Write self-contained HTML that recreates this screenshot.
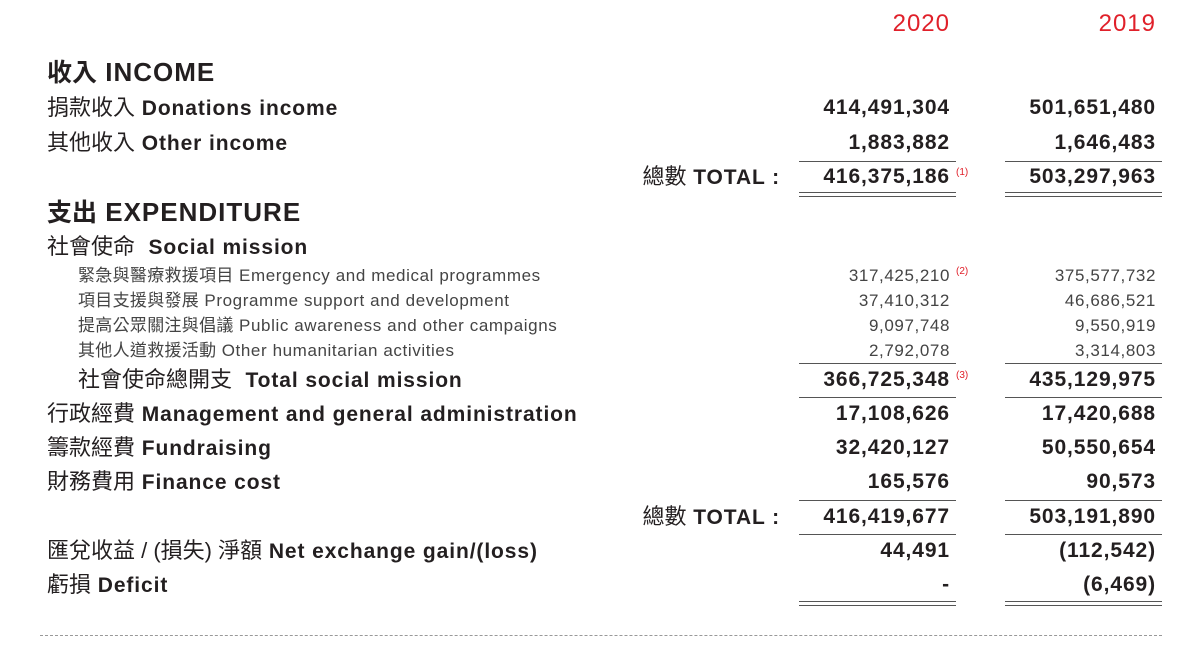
<!DOCTYPE html><html><head><meta charset="utf-8"><style>
body{margin:0;width:1200px;height:651px;background:#fff;position:relative;overflow:hidden;font-family:"Liberation Sans","Noto Sans CJK TC",sans-serif;color:#231f20}
.t{position:absolute;height:30px;line-height:30px;white-space:nowrap}
.b{font-weight:bold;font-size:21px;letter-spacing:0.9px}
.h{font-weight:bold;font-size:26px;letter-spacing:1px}
.s{font-size:17px;color:#444;letter-spacing:0.6px}
.c{font-weight:normal;font-size:22px;letter-spacing:0}
.cs{font-size:17px;letter-spacing:0.3px}
.n1{right:250px;text-align:right}
.n2{right:44px;text-align:right}
.red{color:#e0202a;font-size:24px;letter-spacing:1px}
.fn{position:absolute;font-size:10px;color:#e0202a;left:956px}
.l{position:absolute;height:1px;background:#555;width:157px}
.x1{left:799px}.x2{left:1005px}
</style></head><body>
<div class="t red n1" style="top:9px">2020</div>
<div class="t red n2" style="top:9px">2019</div>

<div class="t h" style="left:47px;top:57px"><span style="font-size:25px;letter-spacing:0">收入</span> INCOME</div>
<div class="t b" style="left:47px;top:93px"><span class="c">捐款收入</span> Donations income</div>
<div class="t b" style="left:47px;top:128px"><span class="c">其他收入</span> Other income</div>
<div class="t b n1" style="top:93px">414,491,304</div>
<div class="t b n2" style="top:93px">501,651,480</div>
<div class="t b n1" style="top:128px">1,883,882</div>
<div class="t b n2" style="top:128px">1,646,483</div>
<div class="l x1" style="top:161px"></div><div class="l x2" style="top:161px"></div>
<div class="t b" style="right:420px;top:162px"><span class="c">總數</span> TOTAL :</div>
<div class="t b n1" style="top:162px">416,375,186</div><div class="fn" style="top:167px">(1)</div>
<div class="t b n2" style="top:162px">503,297,963</div>
<div class="l x1" style="top:192px"></div><div class="l x2" style="top:192px"></div>
<div class="l x1" style="top:196px"></div><div class="l x2" style="top:196px"></div>

<div class="t h" style="left:47px;top:197px"><span style="font-size:25px;letter-spacing:0">支出</span> EXPENDITURE</div>
<div class="t b" style="left:47px;top:232px"><span class="c">社會使命</span>&nbsp; Social mission</div>
<div class="t s" style="left:78px;top:261px"><span class="cs">緊急與醫療救援項目</span> Emergency and medical programmes</div>
<div class="t s" style="left:78px;top:286px"><span class="cs">項目支援與發展</span> Programme support and development</div>
<div class="t s" style="left:78px;top:311px"><span class="cs">提高公眾關注與倡議</span> Public awareness and other campaigns</div>
<div class="t s" style="left:78px;top:336px"><span class="cs">其他人道救援活動</span> Other humanitarian activities</div>
<div class="t s n1" style="top:261px">317,425,210</div><div class="fn" style="top:266px">(2)</div>
<div class="t s n2" style="top:261px">375,577,732</div>
<div class="t s n1" style="top:286px">37,410,312</div><div class="t s n2" style="top:286px">46,686,521</div>
<div class="t s n1" style="top:311px">9,097,748</div><div class="t s n2" style="top:311px">9,550,919</div>
<div class="t s n1" style="top:336px">2,792,078</div><div class="t s n2" style="top:336px">3,314,803</div>
<div class="l x1" style="top:363px"></div><div class="l x2" style="top:363px"></div>
<div class="t b" style="left:78px;top:365px"><span class="c">社會使命總開支</span>&nbsp; Total social mission</div>
<div class="t b n1" style="top:365px">366,725,348</div><div class="fn" style="top:370px">(3)</div>
<div class="t b n2" style="top:365px">435,129,975</div>
<div class="l x1" style="top:397px"></div><div class="l x2" style="top:397px"></div>
<div class="t b" style="left:47px;top:399px"><span class="c">行政經費</span> Management and general administration</div>
<div class="t b n1" style="top:399px">17,108,626</div><div class="t b n2" style="top:399px">17,420,688</div>
<div class="t b" style="left:47px;top:433px"><span class="c">籌款經費</span> Fundraising</div>
<div class="t b n1" style="top:433px">32,420,127</div><div class="t b n2" style="top:433px">50,550,654</div>
<div class="t b" style="left:47px;top:467px"><span class="c">財務費用</span> Finance cost</div>
<div class="t b n1" style="top:467px">165,576</div><div class="t b n2" style="top:467px">90,573</div>
<div class="l x1" style="top:500px"></div><div class="l x2" style="top:500px"></div>
<div class="t b" style="right:420px;top:502px"><span class="c">總數</span> TOTAL :</div>
<div class="t b n1" style="top:502px">416,419,677</div><div class="t b n2" style="top:502px">503,191,890</div>
<div class="l x1" style="top:534px"></div><div class="l x2" style="top:534px"></div>
<div class="t b" style="left:47px;top:536px"><span class="c">匯兌收益 / (損失) 淨額</span> Net exchange gain/(loss)</div>
<div class="t b n1" style="top:536px">44,491</div><div class="t b n2" style="top:536px">(112,542)</div>
<div class="t b" style="left:47px;top:570px"><span class="c">虧損</span> Deficit</div>
<div class="t b n1" style="top:570px">-</div><div class="t b n2" style="top:570px">(6,469)</div>
<div class="l x1" style="top:601px"></div><div class="l x2" style="top:601px"></div>
<div class="l x1" style="top:605px"></div><div class="l x2" style="top:605px"></div>
<div style="position:absolute;left:40px;top:635px;width:1122px;border-top:1px dashed #999"></div>
</body></html>
